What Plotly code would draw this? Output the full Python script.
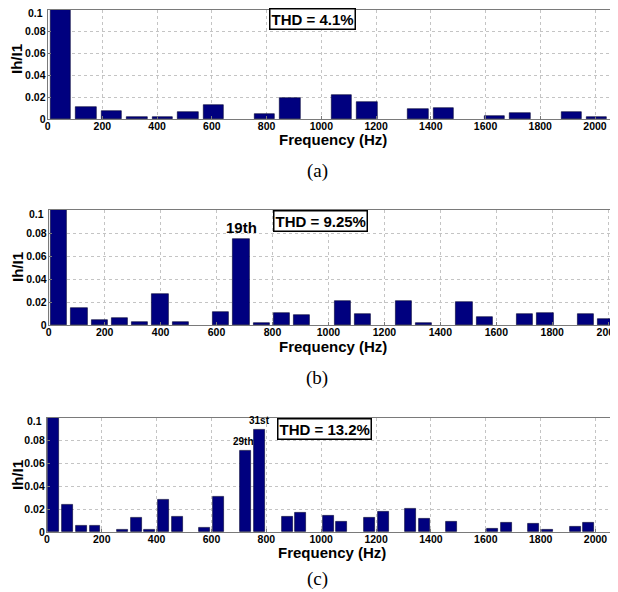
import plotly.graph_objects as go

# ---------------- data ----------------
# panel (a)
f0_a = 46.67
orders_a = [1, 3, 5, 7, 9, 11, 13, 15, 17, 19, 21, 23, 25, 27, 29, 31, 33, 35, 37, 39, 41, 43]
mag_a = [1.0, 0.011, 0.0073, 0.0018, 0.0015, 0.0064, 0.0125, 0.0, 0.0043, 0.019, 0.0,
         0.0217, 0.0153, 0.0, 0.0089, 0.0104, 0.0, 0.0025, 0.0052, 0.0, 0.0061, 0.0018]
thd_a = "THD = 4.1%"

# panel (b)
f0_b = 36.22
orders_b = [1, 3, 5, 7, 9, 11, 13, 15, 17, 19, 21, 23, 25, 27, 29, 31, 33, 35, 37, 39,
            41, 43, 45, 47, 49, 51, 53, 55]
mag_b = [1.0, 0.0148, 0.0049, 0.0061, 0.0029, 0.0275, 0.0029, 0.0, 0.0116, 0.0751,
         0.0017, 0.0107, 0.009, 0.0, 0.0212, 0.0099, 0.0, 0.0209, 0.002, 0.0,
         0.0203, 0.007, 0.0, 0.0099, 0.011, 0.0, 0.0099, 0.0052]
thd_b = "THD = 9.25%"

# panel (c)
f0_c = 25.0
orders_c = [1, 3, 5, 7, 9, 11, 13, 15, 17, 19, 21, 23, 25, 27, 29, 31, 33, 35, 37, 39,
            41, 43, 45, 47, 49, 51, 53, 55, 57, 59, 61, 63, 65, 67, 69, 71, 73, 75, 77, 79, 81, 83]
mag_c = [1.0, 0.0238, 0.0059, 0.0053, 0.0, 0.0021, 0.0126, 0.0024, 0.0279, 0.0138,
         0.0, 0.0035, 0.0309, 0.0, 0.0715, 0.0897, 0.0, 0.0132, 0.0165, 0.0,
         0.0144, 0.0094, 0.0, 0.0126, 0.0179, 0.0, 0.0206, 0.0115, 0.0, 0.0088,
         0.0, 0.0, 0.0026, 0.0085, 0.0, 0.0071, 0.0024, 0.0, 0.005, 0.0079, 0.0, 0.0135]
thd_c = "THD = 13.2%"

x_ticks = [0, 200, 400, 600, 800, 1000, 1200, 1400, 1600, 1800, 2000]
y_ticks = [0, 0.02, 0.04, 0.06, 0.08, 0.1]
y_ticklabels = ["0", "0.02", "0.04", "0.06", "0.08", "0.1"]
captions = ["(a)", "(b)", "(c)"]

# ---------------- figure ----------------
# The page body has an 8px default margin, so the figure starts at (8, 8) in the window.
OFF = 8
WIN_W, WIN_H = 618, 592
W, H = WIN_W - OFF, WIN_H - OFF
BAR = "#00007f"
SANS = "Liberation Sans, Arial, sans-serif"
SERIF = "Liberation Serif, Times New Roman, serif"
TICKFONT = dict(family=SANS, size=10.5, color="black", weight="bold")


def px(x):
    return (x - OFF) / W


def py(y):
    return 1 - (y - OFF) / H


panels = [
    dict(f0=f0_a, orders=orders_a, mags=mag_a, left=47.6, top=10, bottom=119, xmax=2084,
         thd=thd_a, box=(268, 357, 9, 29), xt_y=139.5, cap_y=171, yt_y=59),
    dict(f0=f0_b, orders=orders_b, mags=mag_b, left=48.7, top=210, bottom=325.3, xmax=2035,
         thd=thd_b, box=(272, 369, 212, 230), xt_y=346.5, cap_y=378, yt_y=267),
    dict(f0=f0_c, orders=orders_c, mags=mag_c, left=46.9, top=417.7, bottom=532, xmax=2082,
         thd=thd_c, box=(275, 373, 419, 438), xt_y=552.5, cap_y=579, yt_y=475),
]

fig = go.Figure()
annotations = []

for i, p in enumerate(panels):
    n = "" if i == 0 else str(i + 1)
    xa, ya = "x" + n, "y" + n
    pairs = [(o * p["f0"], m) for o, m in zip(p["orders"], p["mags"]) if m > 0]
    fig.add_trace(go.Bar(
        x=[a for a, _ in pairs], y=[b for _, b in pairs], width=0.8 * 2 * p["f0"],
        marker=dict(color=BAR, line=dict(color="#000033", width=0.6)),
        xaxis=xa, yaxis=ya, showlegend=False, hoverinfo="x+y"))

    xdom = [px(p["left"]), 1.0]
    ydom = [py(p["bottom"]), py(p["top"])]
    axis_common = dict(showline=True, linecolor="#7a7a7a", linewidth=1, mirror=True,
                       showgrid=True, gridcolor="#c4c4c4", griddash="dot", gridwidth=1,
                       zeroline=False, ticks="inside", ticklen=3, tickcolor="#7a7a7a",
                       automargin=False, ticklabeloverflow="allow", tickfont=TICKFONT)
    fig.layout["xaxis" + n] = dict(domain=xdom, range=[0, p["xmax"]], tickvals=x_ticks,
                                   anchor=ya, ticklabelstandoff=-3, **axis_common)
    # top label (0.1) is drawn as an annotation a little below the frame top, as in the original
    fig.layout["yaxis" + n] = dict(domain=ydom, range=[0, 0.1], tickvals=y_ticks[:-1],
                                   ticktext=y_ticklabels[:-1], anchor=xa,
                                   ticklabelstandoff=-1, **axis_common)
    annotations.append(dict(
        x=px(p["left"] - 3), y=py(p["top"] + 3.5), xref="paper", yref="paper",
        text=y_ticklabels[-1], showarrow=False, font=TICKFONT,
        xanchor="right", yanchor="middle"))

    x0, x1, y0, y1 = p["box"]
    annotations.append(dict(
        x=px((x0 + x1) / 2), y=py((y0 + y1) / 2), xref="paper", yref="paper",
        text="<b>" + p["thd"] + "</b>", showarrow=False,
        font=dict(family=SANS, size=15, color="black"),
        bgcolor="white", bordercolor="black", borderwidth=1.5, borderpad=1,
        xanchor="center", yanchor="middle"))

    annotations.append(dict(
        x=px((p["left"] + WIN_W) / 2), y=py(p["xt_y"]), xref="paper", yref="paper",
        text="<b>Frequency (Hz)</b>", showarrow=False,
        font=dict(family=SANS, size=15, color="black"), xanchor="center", yanchor="middle"))
    annotations.append(dict(
        x=px(17), y=py(p["yt_y"]), xref="paper", yref="paper",
        text="<b>Ih/I1</b>", showarrow=False, textangle=-90,
        font=dict(family=SANS, size=15, color="black"), xanchor="center", yanchor="middle"))
    annotations.append(dict(
        x=px(317), y=py(p["cap_y"]), xref="paper", yref="paper",
        text=captions[i], showarrow=False,
        font=dict(family=SERIF, size=19, color="black"), xanchor="center", yanchor="middle"))

annotations.append(dict(x=19 * f0_b, y=mag_b[orders_b.index(19)], xref="x2", yref="y2",
                        text="<b>19th</b>", showarrow=False, yanchor="bottom", yshift=1,
                        font=dict(family=SANS, size=15, color="black")))
annotations.append(dict(x=29 * f0_c, y=mag_c[orders_c.index(29)], xref="x3", yref="y3",
                        text="<b>29th</b>", showarrow=False, yanchor="bottom", yshift=1,
                        xshift=-2, font=dict(family=SANS, size=10, color="black")))
annotations.append(dict(x=31 * f0_c, y=mag_c[orders_c.index(31)], xref="x3", yref="y3",
                        text="<b>31st</b>", showarrow=False, yanchor="bottom", yshift=1,
                        font=dict(family=SANS, size=10, color="black")))

fig.update_layout(width=W, height=H, margin=dict(l=0, r=0, t=0, b=0, autoexpand=False),
                  paper_bgcolor="white", plot_bgcolor="white",
                  annotations=annotations, bargap=0)
fig.write_html("out.html")
